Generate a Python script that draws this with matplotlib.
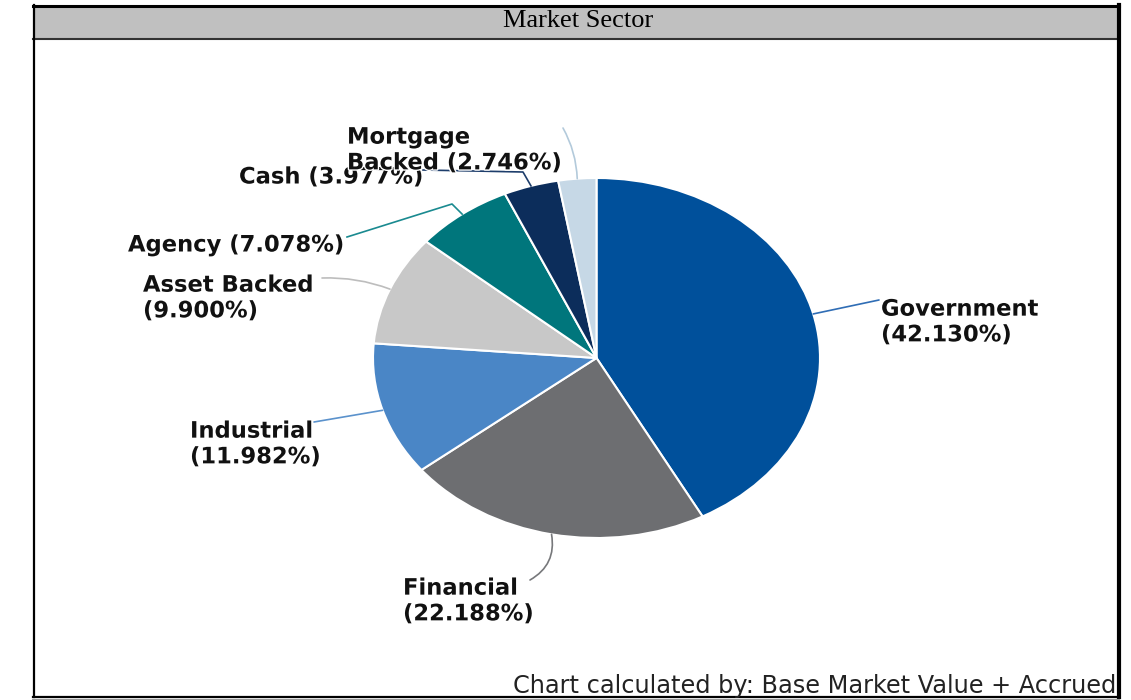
import numpy as np
import matplotlib
matplotlib.use('Agg')
import matplotlib.pyplot as plt
import matplotlib.patheffects as pe
from matplotlib.patches import Rectangle
from matplotlib.transforms import Bbox, TransformedBbox

# data
sectors = ['Government', 'Financial', 'Industrial', 'Asset Backed',
           'Agency', 'Cash', 'Mortgage Backed']
weights = [42.130, 22.188, 11.982, 9.900, 7.078, 3.977, 2.746]
colors = ['#00509b', '#6d6e71', '#4a86c6', '#c8c8c8',
          '#00767c', '#0c2d5b', '#c6d8e6']
line_colors = ['#2f6db5', '#77787b', '#5b92cc', '#bdbdbd',
               '#1a8a90', '#1d3d6b', '#b3cadb']
# how each label is wrapped
wraps = ['{n}\n({w:.3f}%)', '{n}\n({w:.3f}%)', '{n}\n({w:.3f}%)',
         '{n}\n({w:.3f}%)', '{n} ({w:.3f}%)', '{n} ({w:.3f}%)',
         'Mortgage\nBacked ({w:.3f}%)']

W, H = 1131, 700
fig = plt.figure(figsize=(W / 100, H / 100), dpi=100)

# pie axes, stretched into an ellipse
pie_ax = fig.add_axes([373 / W, (H - 538) / H, 447 / W, 360 / H])
wedges, _ = pie_ax.pie(weights, colors=colors, startangle=90, counterclock=False,
                       radius=1, wedgeprops=dict(edgecolor='white', linewidth=1.5))
pie_ax.set_aspect('auto')
pie_ax.set_xlim(-1, 1)
pie_ax.set_ylim(-1, 1)
pie_ax.axis('off')

# overlay in pixel coords for frame, labels and leaders
frame = fig.add_axes([0, 0, 1, 1], zorder=2)
frame.set_xlim(0, W)
frame.set_ylim(H, 0)
frame.axis('off')

# title bar and border
frame.add_patch(Rectangle((33, 5), 1086, 34, fc='#c0c0c0', ec='none'))
frame.plot([33, 1119], [39, 39], color='#333333', lw=1.5)
frame.plot([33, 1119], [5.5, 5.5], color='black', lw=2.2)
frame.plot([33.5, 33.5], [5, 697], color='black', lw=1.6)
frame.plot([1119, 1119], [5, 697], color='black', lw=3.0)
frame.plot([33, 1119], [697, 697], color='black', lw=1.6)
frame.plot([33, 1119], [699.5, 699.5], color='#999999', lw=1.5)
frame.text(578, 21, 'Market Sector', family='Liberation Serif', fontsize=19,
           ha='center', va='center', color='black')

# label layout: text position, leader end, optional elbow, arc rad
layout = [
    dict(xy=(881, 322), end=(879, 300), rad=0.0),
    dict(xy=(403, 601), end=(530, 580), rad=0.35),
    dict(xy=(190, 444), end=(314, 422), rad=0.0),
    dict(xy=(143, 298), end=(322, 278), rad=-0.1),
    dict(xy=(128, 245), end=(347, 237), elbow=(452, 204)),
    dict(xy=(239, 177), end=(423, 170), elbow=(523, 172)),
    dict(xy=(347, 150), end=(563, 128), rad=-0.12),
]

to_frame = frame.transData.inverted()
for i, w in enumerate(wedges):
    mid = np.deg2rad((w.theta1 + w.theta2) / 2)
    anchor_disp = pie_ax.transData.transform((np.cos(mid), np.sin(mid)))
    ax_, ay_ = to_frame.transform(anchor_disp)
    lay = layout[i]
    ex, ey = lay['end']
    if 'elbow' in lay:
        bx, by = lay['elbow']
        frame.plot([ax_, bx, ex], [ay_, by, ey], color=line_colors[i], lw=1.2)
    else:
        frame.annotate('', xy=(ax_, ay_), xytext=(ex, ey),
                       arrowprops=dict(arrowstyle='-', color=line_colors[i], lw=1.2,
                                       shrinkA=0, shrinkB=0,
                                       connectionstyle='arc3,rad=%s' % lay['rad']))
    label = wraps[i].format(n=sectors[i], w=weights[i])
    frame.text(lay['xy'][0], lay['xy'][1], label, ha='left', va='center',
               fontsize=16.3, fontweight='bold', family='DejaVu Sans',
               color='#111111', linespacing=1.15,
               path_effects=[pe.withStroke(linewidth=2, foreground='white')])

foot = frame.text(513, 686, 'Chart calculated by: Base Market Value + Accrued',
                  ha='left', va='center', fontsize=17.3, family='DejaVu Sans',
                  color='#222222')
foot.set_clip_box(TransformedBbox(Bbox([[0, 0], [1117, H]]), frame.transData))
foot.set_clip_on(True)

fig.savefig('out.png', dpi=100)
